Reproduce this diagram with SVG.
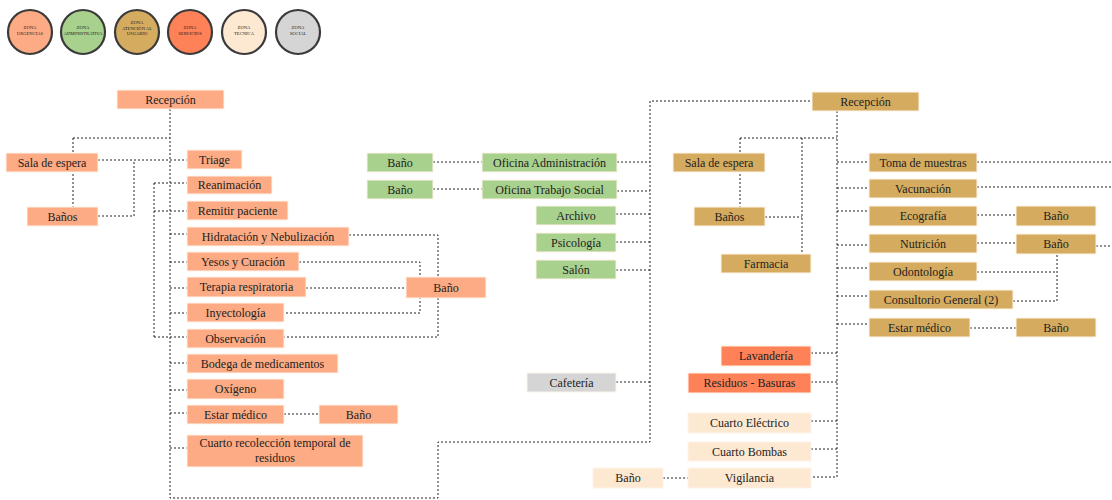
<svg xmlns="http://www.w3.org/2000/svg" width="1112" height="500" viewBox="0 0 1112 500">
<style>
.n{stroke:#fff3ea;stroke-width:1}
.u{fill:#FDAB84}.a{fill:#A9D18E}.t{fill:#D5AC5F}.s{fill:#FF8157}.k{fill:#FDE8D2}.g{fill:#D5D5D5}
text{font-family:"Liberation Serif","Times New Roman",serif;font-size:12px;fill:#222;text-anchor:middle}
.lg{font-size:4.6px}
.c{fill:none;stroke:#222;stroke-width:1;stroke-dasharray:2 2}
.z{stroke:#3a3a3a;stroke-width:2.2}
</style>
<g id="legend">
<circle class="z u" cx="30" cy="32" r="22"/><text class="lg" x="30" y="29">ZONA</text><text class="lg" x="30" y="34.5">URGENCIAS</text>
<circle class="z a" cx="83" cy="32" r="22"/><text class="lg" x="83" y="29">ZONA</text><text class="lg" x="83" y="34.5">ADMINISTRATIVA</text>
<circle class="z t" cx="137" cy="32" r="22"/><text class="lg" x="137" y="24">ZONA</text><text class="lg" x="137" y="29.5">ATENCIÓN AL</text><text class="lg" x="137" y="35">USUARIO</text>
<circle class="z s" cx="190" cy="32" r="22"/><text class="lg" x="190" y="29">ZONA</text><text class="lg" x="190" y="34.5">SERVICIOS</text>
<circle class="z k" cx="244" cy="32" r="22"/><text class="lg" x="244" y="29">ZONA</text><text class="lg" x="244" y="34.5">TECNICA</text>
<circle class="z g" cx="298" cy="32" r="22"/><text class="lg" x="298" y="29">ZONA</text><text class="lg" x="298" y="34.5">SOCIAL</text>
</g>
<g id="connectors">
<path class="c" d="M170,109V498H438V442H650V101H812"/>
<path class="c" d="M73,138H170M73,138V207M98,160H187M98,216H134V160"/>
<path class="c" d="M154,183V337M154,183H187M154,211H187M154,337H187"/>
<path class="c" d="M170,234H187M170,262H187M170,288H187M170,313H187M170,363H187M170,390H187M170,413H187M170,448H187"/>
<path class="c" d="M284,414H319M349,235H438V337H284M299,262H420V313H284M306,288H406"/>
<path class="c" d="M433,162H482M433,189H482M617,162H650M617,191H650M616,214H650M616,242H650M616,270H650M616,382H650"/>
<path class="c" d="M837,111V477H811M740,138H837M740,138V207M802,138V254M765,217H802"/>
<path class="c" d="M837,162H869M837,188H869M837,211H869M837,245H869M837,268H869M837,296H869M837,324H869"/>
<path class="c" d="M977,162H1112M977,187H1112M977,215H1016M977,243H1016M1096,246H1112M977,272H1057M1013,301H1057V254M970,328H1016"/>
<path class="c" d="M811,353H837M811,382H837M811,421H837M811,449H837M663,478H688"/>
</g>
<g id="recepcion-u"><rect class="n u" x="117" y="90" width="107" height="19"/><text x="170.5" y="104">Recepción</text></g>
<g id="sala-u"><rect class="n u" x="6" y="153" width="92" height="19"/><text x="52" y="167">Sala de espera</text></g>
<g id="banos-u"><rect class="n u" x="27" y="207" width="71" height="19"/><text x="62.5" y="221">Baños</text></g>
<g id="triage"><rect class="n u" x="187" y="150" width="55" height="19"/><text x="214.5" y="164">Triage</text></g>
<g id="reanimacion"><rect class="n u" x="187" y="176" width="85" height="18"/><text x="229.5" y="189">Reanimación</text></g>
<g id="remitir"><rect class="n u" x="187" y="201" width="101" height="19"/><text x="237.5" y="215">Remitir paciente</text></g>
<g id="hidratacion"><rect class="n u" x="187" y="227" width="162" height="19"/><text x="268" y="241">Hidratación y Nebulización</text></g>
<g id="yesos"><rect class="n u" x="187" y="252" width="112" height="19"/><text x="243" y="266">Yesos y Curación</text></g>
<g id="terapia"><rect class="n u" x="187" y="277" width="119" height="20"/><text x="246.5" y="291">Terapia respiratoria</text></g>
<g id="inyectologia"><rect class="n u" x="187" y="303" width="97" height="19"/><text x="235.5" y="317">Inyectología</text></g>
<g id="observacion"><rect class="n u" x="187" y="329" width="97" height="19"/><text x="235.5" y="343">Observación</text></g>
<g id="bodega"><rect class="n u" x="187" y="354" width="151" height="19"/><text x="262.5" y="368">Bodega de medicamentos</text></g>
<g id="oxigeno"><rect class="n u" x="187" y="379" width="97" height="20"/><text x="235.5" y="393">Oxígeno</text></g>
<g id="estar-u"><rect class="n u" x="187" y="405" width="97" height="19"/><text x="235.5" y="419">Estar médico</text></g>
<g id="bano-estar-u"><rect class="n u" x="319" y="405" width="79" height="19"/><text x="358.5" y="419">Baño</text></g>
<g id="cuarto-recoleccion"><rect class="n u" x="187" y="435" width="176" height="32"/><text x="275" y="447">Cuarto recolección temporal de</text><text x="275" y="462">residuos</text></g>
<g id="bano-u"><rect class="n u" x="406" y="277" width="80" height="21"/><text x="446" y="292">Baño</text></g>
<g id="bano-a1"><rect class="n a" x="367" y="153" width="66" height="19"/><text x="400" y="167">Baño</text></g>
<g id="oficina-admin"><rect class="n a" x="482" y="153" width="135" height="19"/><text x="549.5" y="167">Oficina Administración</text></g>
<g id="bano-a2"><rect class="n a" x="367" y="180" width="66" height="19"/><text x="400" y="194">Baño</text></g>
<g id="oficina-ts"><rect class="n a" x="482" y="180" width="135" height="19"/><text x="549.5" y="194">Oficina Trabajo Social</text></g>
<g id="archivo"><rect class="n a" x="536" y="206" width="80" height="19"/><text x="576" y="220">Archivo</text></g>
<g id="psicologia"><rect class="n a" x="536" y="233" width="80" height="19"/><text x="576" y="247">Psicología</text></g>
<g id="salon"><rect class="n a" x="536" y="260" width="80" height="19"/><text x="576" y="274">Salón</text></g>
<g id="cafeteria"><rect class="n g" x="527" y="373" width="89" height="19"/><text x="571.5" y="387">Cafetería</text></g>
<g id="recepcion-t"><rect class="n t" x="812" y="92" width="107" height="19"/><text x="865.5" y="106">Recepción</text></g>
<g id="sala-t"><rect class="n t" x="673" y="153" width="92" height="19"/><text x="719" y="167">Sala de espera</text></g>
<g id="banos-t"><rect class="n t" x="694" y="207" width="71" height="19"/><text x="729.5" y="221">Baños</text></g>
<g id="farmacia"><rect class="n t" x="721" y="254" width="90" height="19"/><text x="766" y="268">Farmacia</text></g>
<g id="toma"><rect class="n t" x="869" y="153" width="108" height="19"/><text x="923" y="167">Toma de muestras</text></g>
<g id="vacunacion"><rect class="n t" x="869" y="179" width="108" height="19"/><text x="923" y="193">Vacunación</text></g>
<g id="ecografia"><rect class="n t" x="869" y="206" width="108" height="20"/><text x="923" y="220">Ecografía</text></g>
<g id="bano-eco"><rect class="n t" x="1016" y="206" width="80" height="20"/><text x="1056" y="220">Baño</text></g>
<g id="nutricion"><rect class="n t" x="869" y="234" width="108" height="19"/><text x="923" y="248">Nutrición</text></g>
<g id="bano-nut"><rect class="n t" x="1016" y="234" width="80" height="20"/><text x="1056" y="248">Baño</text></g>
<g id="odontologia"><rect class="n t" x="869" y="262" width="108" height="19"/><text x="923" y="276">Odontología</text></g>
<g id="consultorio"><rect class="n t" x="869" y="290" width="144" height="19"/><text x="941" y="304">Consultorio General (2)</text></g>
<g id="estar-t"><rect class="n t" x="869" y="318" width="101" height="19"/><text x="919.5" y="332">Estar médico</text></g>
<g id="bano-estar-t"><rect class="n t" x="1016" y="318" width="80" height="19"/><text x="1056" y="332">Baño</text></g>
<g id="lavanderia"><rect class="n s" x="721" y="346" width="90" height="20"/><text x="766" y="360">Lavandería</text></g>
<g id="residuos"><rect class="n s" x="688" y="373" width="123" height="20"/><text x="749.5" y="387">Residuos - Basuras</text></g>
<g id="cuarto-electrico"><rect class="n k" x="688" y="413" width="123" height="20"/><text x="749.5" y="427">Cuarto Eléctrico</text></g>
<g id="cuarto-bombas"><rect class="n k" x="688" y="442" width="123" height="19"/><text x="749.5" y="456">Cuarto Bombas</text></g>
<g id="vigilancia"><rect class="n k" x="688" y="468" width="123" height="20"/><text x="749.5" y="482">Vigilancia</text></g>
<g id="bano-vig"><rect class="n k" x="593" y="468" width="70" height="20"/><text x="628" y="482">Baño</text></g>
</svg>
